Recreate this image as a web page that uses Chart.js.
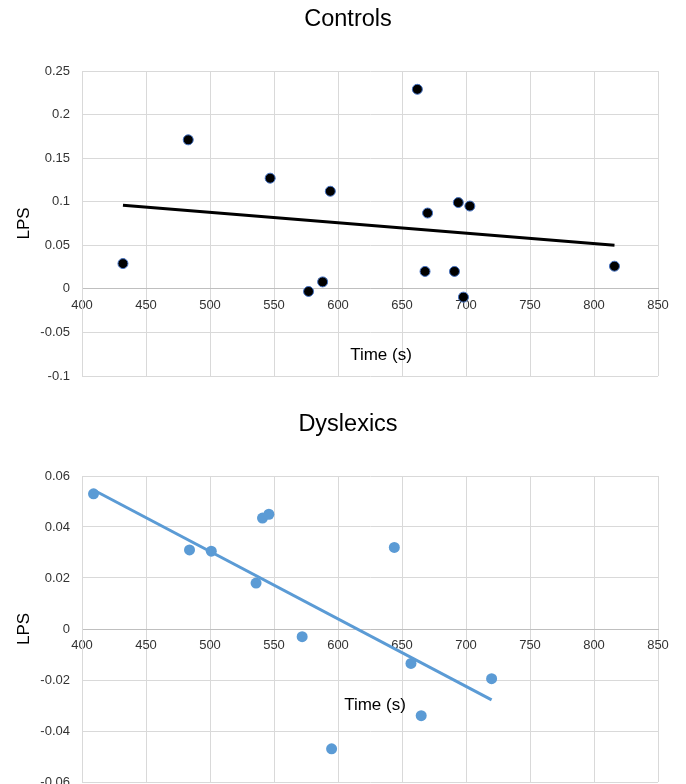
<!DOCTYPE html>
<html>
<head>
<meta charset="utf-8">
<script src="https://cdn.jsdelivr.net/npm/chart.js@4.4.0/dist/chart.umd.min.js"></script>
<style>
    body { margin: 0; background: #fff; width: 686px; height: 784px; overflow: hidden; position: relative; }
    .box { position: absolute; left: 0; width: 686px; height: 392px; }
</style>
</head>
<body>
<div class="box" style="top:0"><canvas id="controls" width="686" height="392"></canvas></div>
<div class="box" style="top:405px"><canvas id="dyslexics" width="686" height="392"></canvas></div>
<script>
// shared x ticks
const xTicks = [400, 450, 500, 550, 600, 650, 700, 750, 800, 850];

// controls
const controlsTime = [432, 483, 547, 577, 588, 594, 662, 668, 670, 691, 694, 698, 703, 816];
const controlsLPS = [0.029, 0.171, 0.127, -0.003, 0.008, 0.112, 0.229, 0.020, 0.087, 0.020, 0.099, -0.0095, 0.095, 0.026];
const controlsTrendTime = [432, 816];
const controlsTrendLPS = [0.096, 0.050];
const controlsYTicks = [-0.1, -0.05, 0, 0.05, 0.1, 0.15, 0.2, 0.25];

// dyslexics
const dyslexicsTime = [409, 484, 501, 536, 541, 546, 572, 595, 644, 657, 665, 720];
const dyslexicsLPS = [0.053, 0.031, 0.0305, 0.018, 0.0435, 0.045, -0.003, -0.047, 0.032, -0.0135, -0.034, -0.0195];
const dyslexicsTrendTime = [409, 720];
const dyslexicsTrendLPS = [0.0545, -0.0278];
const dyslexicsYTicks = [-0.06, -0.04, -0.02, 0, 0.02, 0.04, 0.06];

const fontFamily = '"Liberation Sans", Arial, sans-serif';
Chart.defaults.font.family = fontFamily;

// excel style axis title sitting inside the plot
const axisTitlePlugin = {
    id: 'axisTitle',
    afterDraw(chart, args, opts) {
        const { ctx, scales } = chart;
        ctx.save();
        ctx.font = '17px ' + fontFamily;
        ctx.fillStyle = '#000';
        ctx.textAlign = 'center';
        ctx.textBaseline = 'middle';
        ctx.fillText(opts.text, scales.x.getPixelForValue(opts.x), scales.y.getPixelForValue(opts.y));
        ctx.restore();
    }
};

function toPoints(xs, ys) {
    return xs.map((x, i) => ({ x: x, y: ys[i] }));
}

function makeChart(id, title, xs, ys, trendX, trendY, yTicks, look, titleAt, padBottom) {
    return new Chart(document.getElementById(id), {
        type: 'scatter',
        data: {
            datasets: [{
                data: toPoints(xs, ys),
                backgroundColor: look.fill,
                borderColor: look.border,
                borderWidth: look.borderWidth,
                pointRadius: look.radius,
                order: 0
            }, {
                data: toPoints(trendX, trendY),
                showLine: true,
                borderColor: look.line,
                borderWidth: 3,
                pointRadius: 0,
                order: 1
            }]
        },
        options: {
            responsive: false,
            animation: false,
            // left padding keeps the title centred where excel put it
            layout: { padding: { top: 0, left: 38, right: 28, bottom: padBottom } },
            plugins: {
                legend: { display: false },
                tooltip: { enabled: false },
                title: {
                    display: true,
                    text: title,
                    color: '#000',
                    font: { size: 23.5, weight: 'normal' },
                    padding: { top: 5.9, bottom: 36.9 }
                },
                axisTitle: { text: 'Time (s)', x: titleAt[0], y: titleAt[1] }
            },
            scales: {
                x: {
                    type: 'linear',
                    min: 400,
                    max: 850,
                    position: { y: 0 },
                    afterBuildTicks: (s) => { s.ticks = xTicks.map(v => ({ value: v })); },
                    afterFit: (s) => { s.height = 0; },
                    grid: { color: '#d9d9d9', drawTicks: false },
                    border: { color: '#bfbfbf' },
                    ticks: {
                        padding: 9, color: '#333', font: { size: 13 },
                        maxRotation: 0, autoSkip: false,
                        callback: (v) => String(v)
                    }
                },
                y: {
                    type: 'linear',
                    min: yTicks[0],
                    max: yTicks[yTicks.length - 1],
                    afterBuildTicks: (s) => { s.ticks = yTicks.map(v => ({ value: v })); },
                    afterFit: (s) => { s.width = 44; s.paddingBottom = 0; },
                    grid: { color: '#d9d9d9', drawTicks: false },
                    border: { color: '#d9d9d9' },
                    title: {
                        display: true, text: 'LPS', color: '#000',
                        font: { size: 17 }, padding: { top: -24.2, bottom: 0 }
                    },
                    ticks: {
                        padding: 12, color: '#333', font: { size: 13 },
                        callback: (v) => String(v)
                    }
                }
            }
        },
        plugins: [axisTitlePlugin]
    });
}

makeChart('controls', 'Controls', controlsTime, controlsLPS, controlsTrendTime, controlsTrendLPS,
    controlsYTicks, { fill: '#000', border: '#4472c4', borderWidth: 1, radius: 5, line: '#000' },
    [633.6, -0.0757], 16);

makeChart('dyslexics', 'Dyslexics', dyslexicsTime, dyslexicsLPS, dyslexicsTrendTime, dyslexicsTrendLPS,
    dyslexicsYTicks, { fill: '#5b9bd5', border: '#5b9bd5', borderWidth: 0, radius: 5.5, line: '#5b9bd5' },
    [628.9, -0.0298], 15);
</script>
</body>
</html>
